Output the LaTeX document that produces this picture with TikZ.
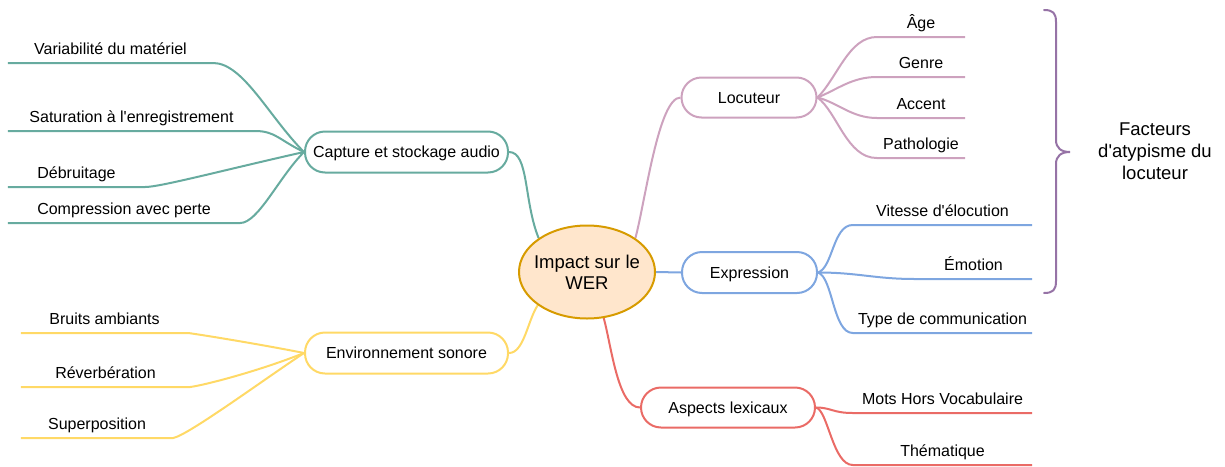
\documentclass[tikz,border=0pt]{standalone}
\usepackage{fontspec}
\setmainfont{Liberation Sans}
\usetikzlibrary{shapes.geometric}
\pgfdeclarelayer{background}
\pgfsetlayers{background,main}

\definecolor{tealline}{HTML}{67AB9F}
\definecolor{yellowline}{HTML}{FFD966}
\definecolor{pinkline}{HTML}{CDA2BE}
\definecolor{blueline}{HTML}{7EA6E0}
\definecolor{redline}{HTML}{EA6B66}
\definecolor{braceline}{HTML}{9673A6}
\definecolor{corefill}{HTML}{FFE6CC}
\definecolor{coreline}{HTML}{D79B00}

\begin{document}
\begin{tikzpicture}[x=1pt,y=-1pt,
  every node/.style={font=\fontsize{16}{19}\selectfont, text=black},
  branch/.style={draw=#1, line width=2pt, fill=white, rounded corners=20pt,
    minimum height=41pt, inner xsep=0pt, text height=11.5pt, text depth=0pt},
  leaf/.style={anchor=south, inner xsep=0pt, inner ysep=0pt, minimum width=#1,
    text height=12pt, text depth=8.5pt},
  link/.style={draw=#1, line width=2pt},
]
\useasboundingbox (0,0) rectangle (1225,466);

% central topic
\node[ellipse, draw=coreline, fill=corefill, line width=2pt,
      minimum width=136pt, minimum height=93pt, inner xsep=-6pt, inner ysep=0pt,
      align=center, font=\fontsize{18.5}{21}\selectfont] (wer) at (587,272)
      {Impact sur le\\WER};

% main branches
\node[branch=tealline,   minimum width=203pt] (cap) at (406.5,152) {Capture et stockage audio};
\node[branch=yellowline, minimum width=203pt] (env) at (406.5,353) {Environnement sonore};
\node[branch=pinkline,   minimum width=135pt, minimum height=40pt] (loc) at (749,97.5) {Locuteur};
\node[branch=blueline,   minimum width=135pt] (exp) at (749.5,272.5) {Expression};
\node[branch=redline,    minimum width=174pt, minimum height=40pt] (asp) at (728,407.5) {Aspects lexicaux};

% leaves: text sitting on its underline
\node[leaf=205pt] (var)  at (110.5,63)  {Variabilité du matériel};
\node[leaf=247pt] (sat)  at (131.5,131) {Saturation à l\textquotesingle enregistrement};
\node[leaf=137pt] (deb)  at (76.5,187)  {Débruitage};
\node[leaf=232pt] (comp) at (124,223)   {Compression avec perte};

\node[leaf=167pt] (bruit)  at (104.5,333) {Bruits ambiants};
\node[leaf=169pt] (reverb) at (105.5,387) {Réverbération};
\node[leaf=152pt] (super)  at (97,438)    {Superposition};

\node[leaf=88pt] (age)    at (921,37)  {Âge};
\node[leaf=88pt] (genre)  at (921,77)  {Genre};
\node[leaf=88pt] (accent) at (921,118) {Accent};
\node[leaf=88pt] (patho)  at (921,158) {Pathologie};

\node[leaf=179pt] (vit)  at (942.5,225) {Vitesse d\textquotesingle élocution};
\node[leaf=117pt] (emo)  at (973.5,279) {Émotion};
\node[leaf=179pt] (type) at (942.5,333) {Type de communication};

\node[leaf=179pt] (mots) at (942.5,413) {Mots Hors Vocabulaire};
\node[leaf=179pt] (them) at (942.5,465) {Thématique};

% side note
\node[align=center, font=\fontsize{18.5}{22}\selectfont] (note) at (1155,151)
  {Facteurs\\d\textquotesingle atypisme du\\locuteur};

\begin{pgfonlayer}{background}
% centre to branches
\draw[link=tealline] (cap.east) .. controls +(20,0) and +(-15,-37) .. (wer.145);
\draw[link=yellowline] (env.east) .. controls +(15,0) and +(-10,15) .. (wer.214);
\draw[link=pinkline] (wer.35) .. controls +(10,-37) and +(-22,0) .. (loc.west);
\draw[link=blueline] (wer.east) -- (exp.west);
\draw[link=redline] (wer.290) .. controls +(8,30) and +(-22,0) .. (asp.west);

% capture leaves
\draw[link=tealline] (var.south west) -- (var.south east) .. controls +(30,0) and +(-35,-35) .. (cap.west);
\draw[link=tealline] (sat.south west) -- (sat.south east) .. controls +(20,0) and +(-25,-12) .. (cap.west);
\draw[link=tealline] (deb.south west) -- (deb.south east) .. controls +(15,0) and +(-80,18) .. (cap.west);
\draw[link=tealline] (comp.south west) -- (comp.south east) .. controls +(18,0) and +(-25,25) .. (cap.west);

% environment leaves
\draw[link=yellowline] (bruit.south west) -- (bruit.south east) .. controls +(15,2) and +(-40,-8) .. (env.west);
\draw[link=yellowline] (reverb.south west) -- (reverb.south east) .. controls +(15,-2) and +(-45,18) .. (env.west);
\draw[link=yellowline] (super.south west) -- (super.south east) .. controls +(15,-3) and +(-45,30) .. (env.west);

% speaker leaves
\draw[link=pinkline] (loc.east) .. controls +(20,-20) and +(-28,0) .. (age.south west) -- (age.south east);
\draw[link=pinkline] (loc.east) .. controls +(20,-8) and +(-25,0) .. (genre.south west) -- (genre.south east);
\draw[link=pinkline] (loc.east) .. controls +(20,5) and +(-25,0) .. (accent.south west) -- (accent.south east);
\draw[link=pinkline] (loc.east) .. controls +(20,15) and +(-30,0) .. (patho.south west) -- (patho.south east);

% expression leaves
\draw[link=blueline] (exp.east) .. controls +(15,-5) and +(-20,0) .. (vit.south west) -- (vit.south east);
\draw[link=blueline] (exp.east) .. controls +(40,0) and +(-40,0) .. (emo.south west) -- (emo.south east);
\draw[link=blueline] (exp.east) .. controls +(15,5) and +(-20,0) .. (type.south west) -- (type.south east);

% lexical leaves
\draw[link=redline] (asp.east) .. controls +(15,0) and +(-20,0) .. (mots.south west) -- (mots.south east);
\draw[link=redline] (asp.east) .. controls +(12,3) and +(-20,0) .. (them.south west) -- (them.south east);
\end{pgfonlayer}

% curly brace grouping the speaker factors
\coordinate (btop) at (1044,10);
\coordinate (btip) at (1070,152);
\coordinate (bbot) at (1044,293);
\draw[braceline, line width=2pt, line cap=round]
  (btop) .. controls +(9,0) and +(0,-9) .. (1056,22) -- (1056,140)
  .. controls +(0,8) and +(-9,0) .. (btip)
  .. controls +(-9,0) and +(0,-8) .. (1056,164) -- (1056,281)
  .. controls +(0,9) and +(9,0) .. (bbot);
\end{tikzpicture}
\end{document}
